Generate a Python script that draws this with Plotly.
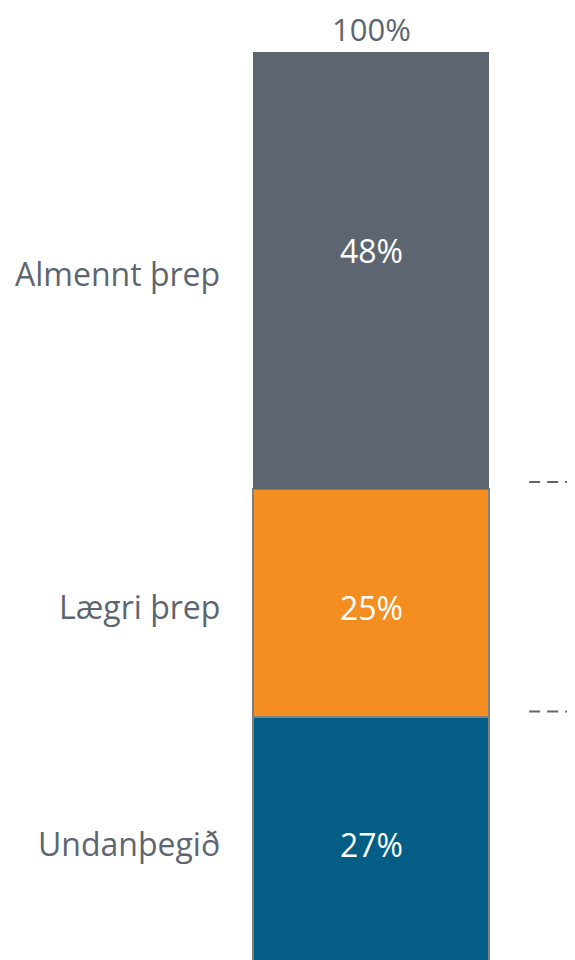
import plotly.graph_objects as go

categories = ["Undanþegið", "Lægri þrep", "Almennt þrep"]
values = [27, 25, 48]
value_labels = ["27%", "25%", "48%"]
colors = ["#035d84", "#f58e20", "#5d6670"]
total_label = "100%"
connector_levels = [52.8, 27.6]

text_color = "#5d6670"
font_family = "'Open Sans', sans-serif"

fig = go.Figure()
base = 0
for cat, v, lab, c in zip(categories, values, value_labels, colors):
    top = cat == "Almennt þrep"
    fig.add_trace(go.Bar(
        x=[0], y=[v], width=[1], name=cat,
        marker=dict(color=c, line=dict(color="#7f7f7f", width=0 if top else 2)),
        showlegend=False, hoverinfo="skip",
    ))
    mid = base + v / 2
    fig.add_annotation(x=-0.63, y=mid, text=cat, showarrow=False, xanchor="right",
                       yshift=-3,
                       font=dict(size=32, color=text_color, family=font_family))
    fig.add_annotation(x=0, y=mid, text=lab, showarrow=False, xanchor="center",
                       yshift=20 if top else -4,
                       font=dict(size=32, color="white", family=font_family))
    base += v

fig.add_annotation(x=0, y=sum(values), text=total_label, showarrow=False,
                   yanchor="middle", yshift=23, borderpad=0,
                   font=dict(size=31, color=text_color, family=font_family))

for lvl in connector_levels:
    fig.add_shape(type="line", x0=0.67, x1=0.92, y0=lvl, y1=lvl, xref="x", yref="y",
                  line=dict(color="#5d6670", width=2, dash="11px,7px"))

fig.update_layout(
    barmode="stack",
    width=575, height=960,
    margin=dict(l=0, r=0, t=44, b=0),
    plot_bgcolor="white", paper_bgcolor="white",
    xaxis=dict(range=[-1.538, 0.898], visible=False, fixedrange=True),
    yaxis=dict(range=[-0.55, 100], visible=False, fixedrange=True),
    bargap=0,
)
fig.write_html("out.html")
